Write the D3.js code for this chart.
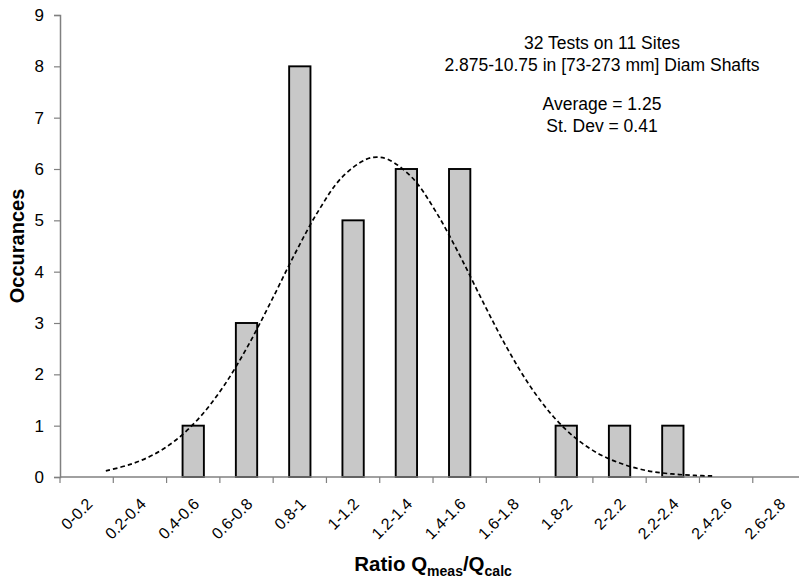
<!DOCTYPE html>
<html>
<head>
<meta charset="utf-8">
<script src="https://cdn.jsdelivr.net/npm/d3@7"></script>
<style>
  html, body { margin: 0; padding: 0; background: #fff; }
  svg { display: block; font-family: "Liberation Sans", Arial, Helvetica, sans-serif; }
</style>
</head>
<body>
<svg id="chart" width="799" height="585"></svg>
<script>
// Histogram bins of measured/calculated capacity ratio
const categories = ["0-0.2", "0.2-0.4", "0.4-0.6", "0.6-0.8", "0.8-1", "1-1.2", "1.2-1.4",
                    "1.4-1.6", "1.6-1.8", "1.8-2", "2-2.2", "2.2-2.4", "2.4-2.6", "2.6-2.8"];
const occurrences = [0, 0, 1, 3, 8, 5, 6, 6, 0, 1, 1, 1, 0, 0];

// Fitted normal curve (ratio, expected count)
const curveRatio = [0.1, 0.2, 0.3, 0.4, 0.5, 0.6, 0.7, 0.8, 0.9, 1.0, 1.1, 1.2, 1.25, 1.3, 1.4,
                    1.5, 1.6, 1.7, 1.8, 1.9, 2.0, 2.1, 2.2, 2.3, 2.4, 2.5, 2.6, 2.675];
const curveCount = [0.12, 0.24, 0.43, 0.73, 1.17, 1.77, 2.53, 3.41, 4.33, 5.17, 5.83, 6.18, 6.23, 6.18, 5.83,
                    5.17, 4.33, 3.41, 2.53, 1.77, 1.17, 0.73, 0.43, 0.24, 0.12, 0.06, 0.03, 0.02];

const yTicks = [0, 1, 2, 3, 4, 5, 6, 7, 8, 9];
const noteLines = ["32 Tests on 11 Sites", "2.875-10.75 in [73-273 mm] Diam Shafts", "",
                   "Average = 1.25", "St. Dev = 0.41"];

const svg = d3.select("#chart");
const plotLeft = 60, plotTop = 15, plotBottom = 477, binStep = 53.29;
const plotRight = plotLeft + binStep * categories.length;

const x = d3.scaleBand().domain(categories).range([plotLeft, plotRight])
  .paddingInner(0.6).paddingOuter(0.3);
const y = d3.scaleLinear().domain([0, 9]).range([plotBottom, plotTop]);
// Secondary horizontal scale for the fitted curve
const xc = d3.scaleLinear().domain([0.1, 2.675])
  .range([plotLeft + binStep * 0.86, plotLeft + binStep * 12.25]);

const axisColor = "#808080";

// Bars
svg.append("g").selectAll("rect")
  .data(categories.map((c, i) => ({ c, v: occurrences[i] })).filter(d => d.v > 0))
  .join("rect")
  .attr("x", d => x(d.c))
  .attr("y", d => y(d.v))
  .attr("width", x.bandwidth())
  .attr("height", d => y(0) - y(d.v))
  .attr("fill", "#c8c8c8")
  .attr("stroke", "#000")
  .attr("stroke-width", 1.9);

// Y axis
const yAxis = svg.append("g")
  .attr("transform", `translate(${plotLeft},0)`)
  .call(d3.axisLeft(y).tickValues(yTicks).tickFormat(d3.format("d")).tickSize(6).tickPadding(10));
yAxis.select(".domain").attr("stroke", axisColor).attr("stroke-width", 1.5);
yAxis.selectAll(".tick line").attr("stroke", axisColor).attr("stroke-width", 1.2);
yAxis.selectAll(".tick text").attr("font-size", 17).attr("fill", "#000")
  .attr("font-family", "Liberation Sans, Arial, sans-serif");

// X axis: baseline, ticks on bin boundaries, rotated labels
const xg = svg.append("g");
xg.append("line").attr("x1", plotLeft).attr("x2", plotRight).attr("y1", plotBottom).attr("y2", plotBottom)
  .attr("stroke", axisColor).attr("stroke-width", 1.5);
const boundaries = d3.range(categories.length + 1).map(i => plotLeft + x.step() * i);
xg.selectAll("line.tk").data(boundaries).join("line").attr("class", "tk")
  .attr("x1", d => d).attr("x2", d => d).attr("y1", plotBottom).attr("y2", plotBottom + 6)
  .attr("stroke", axisColor).attr("stroke-width", 1.2);
xg.selectAll("text").data(categories).join("text")
  .attr("transform", d => `translate(${x(d) + x.bandwidth() / 2 + 7},${plotBottom + 28}) rotate(-45)`)
  .attr("text-anchor", "end")
  .attr("font-size", 16)
  .text(d => d);

// Fitted curve
const line = d3.line()
  .x((d, i) => xc(curveRatio[i]))
  .y(d => y(d))
  .curve(d3.curveCatmullRom);
svg.append("path")
  .attr("d", line(curveCount))
  .attr("fill", "none")
  .attr("stroke", "#000")
  .attr("stroke-width", 1.7)
  .attr("stroke-dasharray", "4.5,3");

// Annotation
const note = svg.append("text").attr("text-anchor", "middle").attr("font-size", 17.5);
let ny = 49;
noteLines.forEach(t => {
  note.append("tspan").attr("x", 602).attr("y", ny).text(t);
  ny += (t === "" ? 18 : 21.5);
});

// Axis titles
svg.append("text")
  .attr("transform", `translate(24,${(plotTop + plotBottom) / 2}) rotate(-90)`)
  .attr("text-anchor", "middle").attr("font-weight", "bold").attr("font-size", 20)
  .text("Occurances");

const xt = svg.append("text")
  .attr("x", (plotLeft + plotRight) / 2).attr("y", 571)
  .attr("text-anchor", "middle").attr("font-weight", "bold").attr("font-size", 20.5);
xt.append("tspan").text("Ratio Q");
xt.append("tspan").attr("font-size", 14).attr("dy", 5).text("meas");
xt.append("tspan").attr("dy", -5).text("/Q");
xt.append("tspan").attr("font-size", 14).attr("dy", 5).text("calc");
</script>
</body>
</html>
